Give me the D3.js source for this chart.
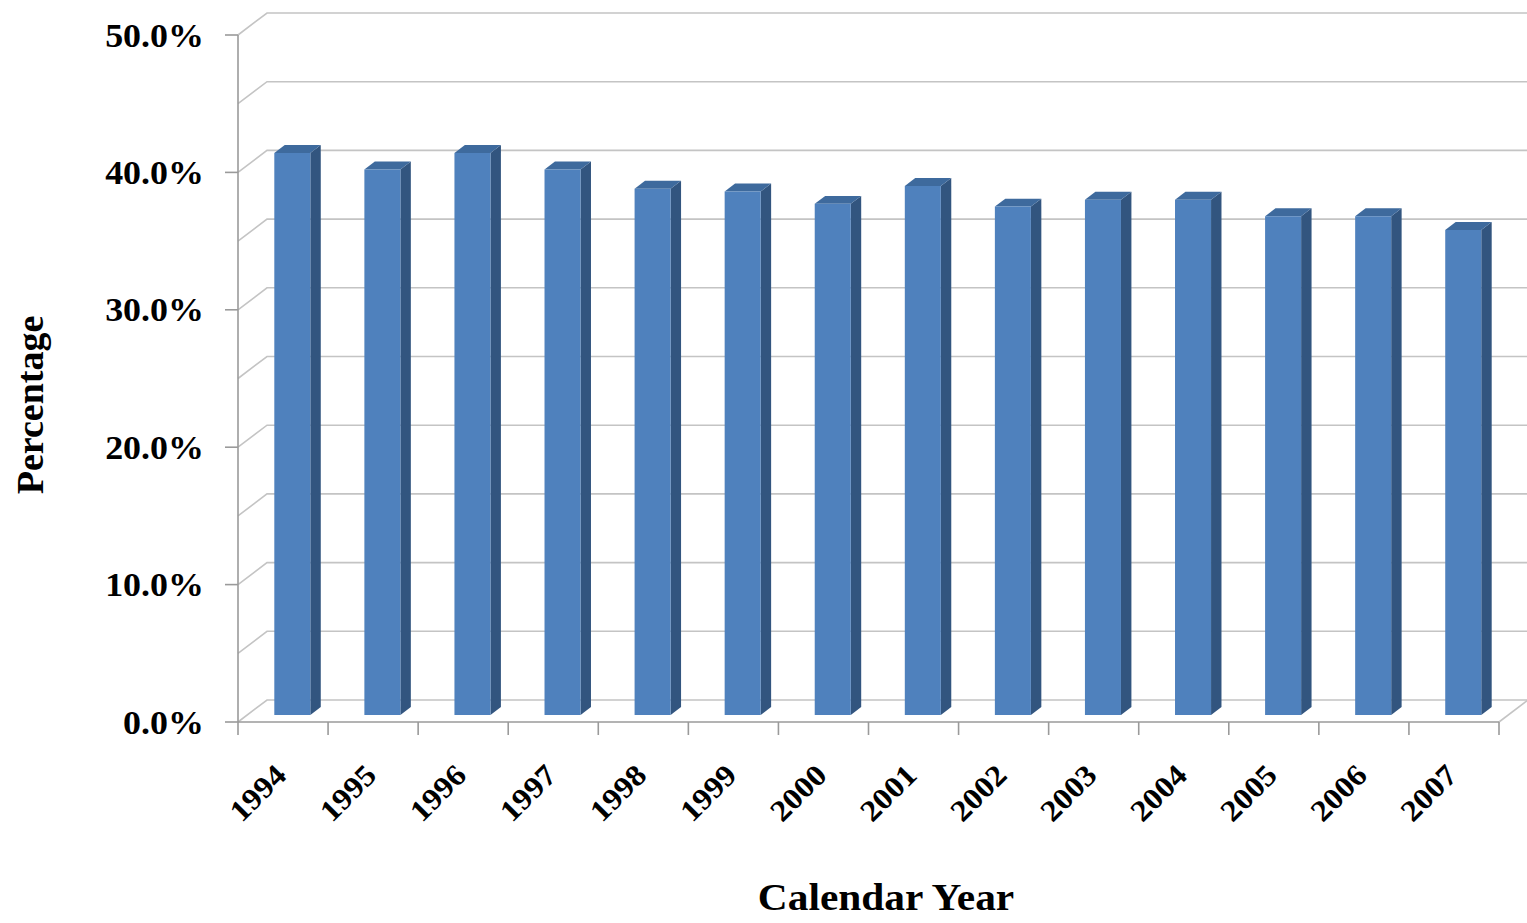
<!DOCTYPE html>
<html>
<head>
<meta charset="utf-8">
<script src="https://cdn.jsdelivr.net/npm/d3@7"></script>
<style>
  body { margin: 0; background: #fff; }
  text { font-family: "Liberation Serif", "Times New Roman", serif; font-weight: bold; fill: #000; }
</style>
</head>
<body>
<svg id="chart"></svg>
<script>
// Data
const years = ["1994", "1995", "1996", "1997", "1998", "1999", "2000",
  "2001", "2002", "2003", "2004", "2005", "2006", "2007"];
const percentages = [40.9, 39.7, 40.9, 39.7, 38.3, 38.1, 37.2,
  38.5, 37.0, 37.5, 37.5, 36.3, 36.3, 35.3];
const yTickLabels = [0, 10, 20, 30, 40, 50];

// 1. Setup
const W = 1527, H = 923;
const svg = d3.select("#chart").attr("width", W).attr("height", H);

// depth offset of the 3D box (front plane -> back wall)
const DX = 29, DY = -22;
// bars sit in the middle third of the depth
const F0 = 0.32, F1 = 0.68;
// the source text is a little wider than Liberation Serif
const STRETCH = 1.09;

const x = d3.scaleBand().domain(years).range([238, 1499])
  .paddingInner(0.6).paddingOuter(0.3);
const y = d3.scaleLinear().domain([0, 50]).range([722, 35]);

// project a front-plane point to depth f
const p = (xx, v, f) => [xx + f * DX, y(v) + f * DY];
const poly = (pts) => pts.map((d) => d.join(",")).join(" ");

const xLeft = x.range()[0], xRight = x.range()[1];

// 2. Walls: gridlines every 5%
const grid = svg.append("g").attr("stroke", "#c4c4c4").attr("stroke-width", 1.6).attr("fill", "none");
y.ticks(10).forEach((v) => {
  const a = p(xLeft, v, 0), b = p(xLeft, v, 1), c = p(xRight, v, 1);
  grid.append("polyline").attr("points", poly([a, b, c]));
});
// right edge of the floor
grid.append("line")
  .attr("x1", p(xRight, 0, 0)[0]).attr("y1", p(xRight, 0, 0)[1])
  .attr("x2", p(xRight, 0, 1)[0]).attr("y2", p(xRight, 0, 1)[1]);

// 3. Bars
const bars = svg.append("g");
years.forEach((yr, i) => {
  const v = percentages[i];
  const x0 = x(yr), x1 = x(yr) + x.bandwidth();
  const g = bars.append("g");
  g.append("polygon")
    .attr("points", poly([p(x1, 0, F0), p(x1, 0, F1), p(x1, v, F1), p(x1, v, F0)]))
    .attr("fill", "#32557f");
  g.append("polygon")
    .attr("points", poly([p(x0, v, F0), p(x1, v, F0), p(x1, v, F1), p(x0, v, F1)]))
    .attr("fill", "#3e6a9d");
  g.append("polygon")
    .attr("points", poly([p(x0, 0, F0), p(x1, 0, F0), p(x1, v, F0), p(x0, v, F0)]))
    .attr("fill", "#4f81bd");
});

// 4. Axes
const axisColor = "#9a9a9a";
const axes = svg.append("g").attr("stroke", axisColor).attr("stroke-width", 1.6);
axes.append("line").attr("x1", xLeft).attr("x2", xLeft).attr("y1", y(0)).attr("y2", y(50));
axes.append("line").attr("x1", xLeft).attr("x2", xRight).attr("y1", y(0)).attr("y2", y(0));

yTickLabels.forEach((v) => {
  axes.append("line").attr("x1", xLeft - 13).attr("x2", xLeft).attr("y1", y(v)).attr("y2", y(v));
  svg.append("text")
    .attr("transform", `translate(204,${y(v)}) scale(${STRETCH},1)`)
    .attr("dy", "0.35em")
    .attr("text-anchor", "end").attr("font-size", "33px")
    .text(d3.format(".1f")(v) + "%");
});

// category ticks at band boundaries
const step = x.step();
d3.range(years.length + 1).forEach((k) => {
  const xx = xLeft + k * step;
  axes.append("line").attr("x1", xx).attr("x2", xx).attr("y1", y(0)).attr("y2", y(0) + 13);
});

years.forEach((yr) => {
  const cx = x(yr) + x.bandwidth() / 2;
  svg.append("text")
    .attr("transform", `translate(${cx + 5},${y(0) + 55}) rotate(-45) scale(${STRETCH},1)`)
    .attr("text-anchor", "end").attr("font-size", "30px")
    .text(yr);
});

// 5. Axis titles
svg.append("text")
  .attr("transform", `translate(886,910) scale(${STRETCH},1)`)
  .attr("text-anchor", "middle").attr("font-size", "38px")
  .text("Calendar Year");

svg.append("text")
  .attr("transform", "translate(43,405) rotate(-90)")
  .attr("text-anchor", "middle").attr("font-size", "38px")
  .text("Percentage");
</script>
</body>
</html>
